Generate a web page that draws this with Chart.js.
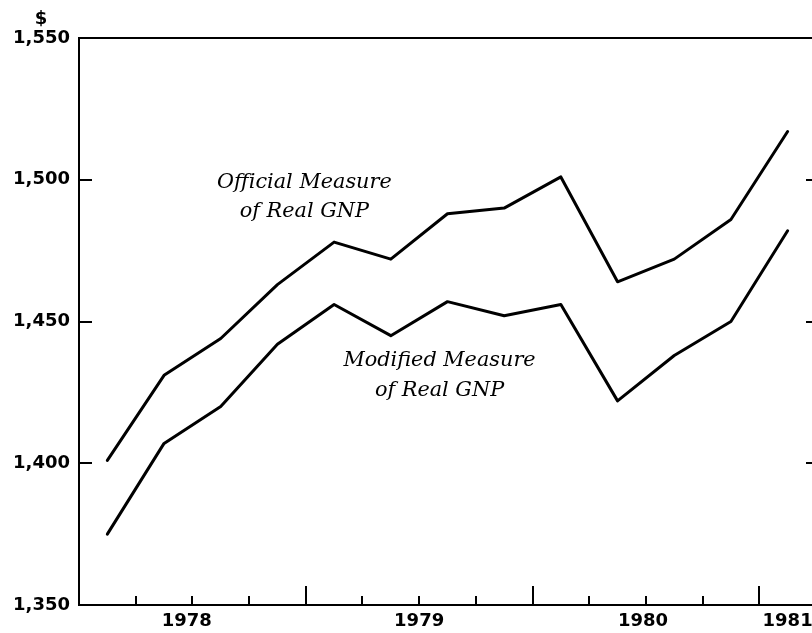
<!DOCTYPE html>
<html>
<head>
<meta charset="utf-8">
<script src="https://cdn.jsdelivr.net/npm/chart.js@4/dist/chart.umd.min.js"></script>
<style>
    html, body { margin: 0; padding: 0; background: #fff; }
    #wrap { width: 812px; height: 633px; }
</style>
</head>
<body>
<div id="wrap"><canvas id="gnpChart"></canvas></div>
<script>
// Quarterly real GNP, 1978 Q1 - 1981 Q1 (billions of dollars)
const quarters = ['1978 Q1', '1978 Q2', '1978 Q3', '1978 Q4',
                  '1979 Q1', '1979 Q2', '1979 Q3', '1979 Q4',
                  '1980 Q1', '1980 Q2', '1980 Q3', '1980 Q4', '1981 Q1'];
const officialGNP = [1401, 1431, 1444, 1463, 1478, 1472, 1488, 1490, 1501, 1464, 1472, 1486, 1517];
const modifiedGNP = [1375, 1407, 1420, 1442, 1456, 1445, 1457, 1452, 1456, 1422, 1438, 1450, 1482];

// tick labels
const yearLabels = ['1978', '1979', '1980', '1981'];
const yearTickAt = [1.9, 6, 9.95, 12.5];      // in quarters from start of 1978
const yTicks = [1350, 1400, 1450, 1500, 1550];

class GnpChart {
    constructor() {
        this.chart = null;
        this.init();
    }

    init() {
        Chart.defaults.font.family = 'DejaVu Sans';
        this.render();
    }

    toPoints(values) {
        // each quarter plotted at its midpoint
        return values.map((v, i) => ({ x: i + 0.5, y: v }));
    }

    // inward tick marks, top rule and the two line captions
    framePlugin() {
        return {
            id: 'frame',
            afterDraw(chart) {
                const { ctx, chartArea: area, scales: { x, y } } = chart;
                ctx.save();
                ctx.strokeStyle = '#000';
                ctx.lineWidth = 2;

                ctx.beginPath();
                ctx.moveTo(area.left - 1, area.top);
                ctx.lineTo(chart.width, area.top);
                ctx.stroke();

                for (let q = 1; q <= 12; q++) {
                    const px = Math.round(x.getPixelForValue(q));
                    const len = q % 4 === 0 ? 19 : 9;
                    ctx.beginPath();
                    ctx.moveTo(px, area.bottom);
                    ctx.lineTo(px, area.bottom - len);
                    ctx.stroke();
                }

                yTicks.slice(1, -1).forEach(v => {
                    const py = Math.round(y.getPixelForValue(v));
                    ctx.beginPath();
                    ctx.moveTo(area.left, py);
                    ctx.lineTo(area.left + 13, py);
                    ctx.moveTo(area.right - 6, py);
                    ctx.lineTo(area.right, py);
                    ctx.stroke();
                });

                // dollar sign over the value axis
                ctx.fillStyle = '#000';
                ctx.font = 'bold 18px "DejaVu Sans"';
                ctx.textAlign = 'center';
                ctx.textBaseline = 'alphabetic';
                ctx.fillText('$', area.left - 38, area.top - 14);

                ctx.font = 'italic 20.8px "DejaVu Serif"';
                const captions = [
                    { at: 3.975, lines: [[1497.1, 'Official Measure'], [1486.9, 'of Real GNP']] },
                    { at: 6.36, lines: [[1434.3, 'Modified Measure'], [1423.7, 'of Real GNP']] }
                ];
                captions.forEach(c => {
                    const cx = x.getPixelForValue(c.at);
                    c.lines.forEach(([val, text]) => {
                        ctx.fillText(text, cx, y.getPixelForValue(val));
                    });
                });
                ctx.restore();
            }
        };
    }

    render() {
        const ctx = document.getElementById('gnpChart').getContext('2d');
        const lineStyle = {
            borderColor: '#000',
            borderWidth: 3,
            pointRadius: 0,
            tension: 0,
            borderJoinStyle: 'round',
            borderCapStyle: 'round',
            fill: false
        };

        this.chart = new Chart(ctx, {
            type: 'line',
            data: {
                datasets: [
                    { label: 'Official Measure of Real GNP', data: this.toPoints(officialGNP), ...lineStyle },
                    { label: 'Modified Measure of Real GNP', data: this.toPoints(modifiedGNP), ...lineStyle }
                ]
            },
            options: {
                responsive: true,
                maintainAspectRatio: false,
                animation: false,
                layout: { padding: { top: 38, right: 0, bottom: 0, left: 0 } },
                plugins: {
                    legend: { display: false },
                    tooltip: { enabled: false }
                },
                scales: {
                    x: {
                        type: 'linear',
                        min: 0,
                        max: 12.93,
                        afterBuildTicks: scale => {
                            scale.ticks = yearTickAt.map(v => ({ value: v }));
                        },
                        afterFit: scale => {
                            scale.height = 28;
                            // the 1981 label may run to the edge, don't shrink the plot for it
                            scale.paddingLeft = 0;
                            scale.paddingRight = 0;
                        },
                        grid: { display: false, drawTicks: false },
                        border: { display: true, color: '#000', width: 2 },
                        ticks: {
                            autoSkip: false,
                            maxRotation: 0,
                            padding: 6,
                            color: '#000',
                            font: { size: 18, weight: 'bold' },
                            callback: (value, index) => yearLabels[index]
                        }
                    },
                    y: {
                        min: 1350,
                        max: 1550,
                        afterBuildTicks: scale => {
                            scale.ticks = yTicks.map(v => ({ value: v }));
                        },
                        afterFit: scale => { scale.width = 79; },
                        grid: { display: false, drawTicks: false },
                        border: { display: true, color: '#000', width: 2 },
                        ticks: {
                            padding: 9,
                            color: '#000',
                            font: { size: 18, weight: 'bold' },
                            callback: value => value.toLocaleString('en-US')
                        }
                    }
                }
            },
            plugins: [this.framePlugin()]
        });
    }
}

let gnpChart = null;
document.addEventListener('DOMContentLoaded', () => {
    gnpChart = new GnpChart();
});
</script>
</body>
</html>
